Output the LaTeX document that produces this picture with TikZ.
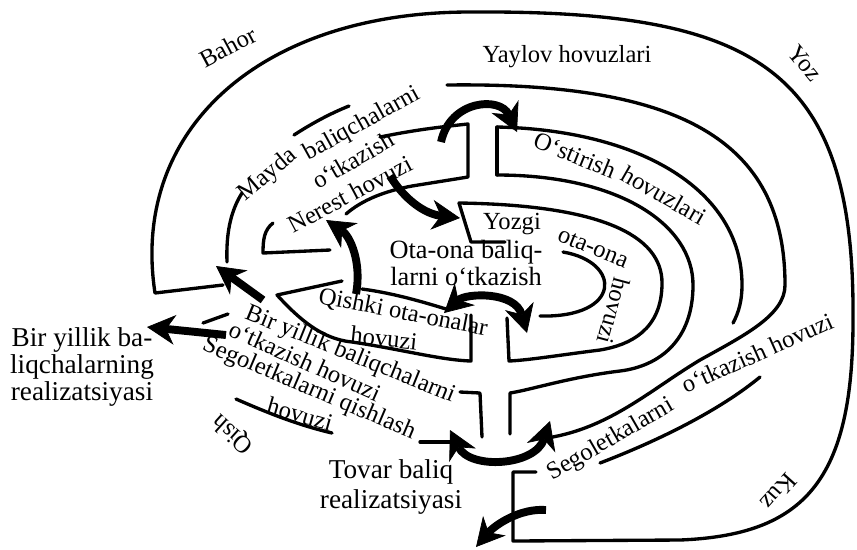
\documentclass[tikz,border=0pt]{standalone}
\usepackage{fontspec}
\setmainfont{Liberation Serif}
\usetikzlibrary{arrows.meta}

\begin{document}
\begin{tikzpicture}[
    x=0.02cm, y=-0.02cm,
    fishtip/.tip={Stealth[length=16pt, width=17pt, inset=5pt, line width=0.4pt]},
    wall/.style={line width=1.9pt, line cap=round, line join=round},
    arr/.style={line width=4.5pt, -fishtip},
    twoway/.style={line width=4.5pt, fishtip-fishtip},
    lbl/.style={inner sep=0pt, font=\fontsize{14}{15}\selectfont},
    side/.style={inner sep=0pt, align=center, font=\fontsize{15.5}{15.6}\selectfont}
]
\useasboundingbox (0,0) rectangle (857,549);

% Outer ring: seasons
\draw[wall] (223,285) -- (155,293)
  .. controls (130,130) and (260,12) .. (470,12)
  .. controls (760,10) and (855,70) .. (853,320)
  .. controls (853,480) and (805,535) .. (680,540)
  -- (513,541) -- (513,472) -- (536,472);

% Yaylov / segoletka walls
\draw[wall] (447,85) .. controls (680,82) and (785,140) .. (785,285)
  .. controls (785,315) and (745,335) .. (700,360)
  .. controls (650,390) and (610,428) .. (547,438);
\draw[wall] (600,463) .. controls (660,440) and (720,410) .. (760,377);

% O'stirish walls
\draw[wall] (497,127) .. controls (640,130) and (742,190) .. (742,285)
  .. controls (742,300) and (739,312) .. (733,323);
\draw[wall] (497,127) -- (497,175);
\draw[wall] (497,175) .. controls (620,175) and (693,225) .. (693,285)
  .. controls (693,340) and (660,366) .. (620,371)
  .. controls (570,377) and (530,390) .. (510,393) -- (510,434);

% Yozgi ota-ona walls
\draw[wall] (505,242) -- (471,242) -- (459,203)
  .. controls (600,205) and (662,235) .. (662,283)
  .. controls (662,330) and (630,345) .. (600,350)
  .. controls (560,355) and (530,360) .. (509,361) -- (507,318);
\draw[wall] (563,252) .. controls (622,262) and (622,318) .. (540,316);

% Mayda / Nerest walls
\draw[wall] (380,137) .. controls (410,131) and (430,128) .. (468,124)
  -- (468,177) -- (412,186) .. controls (385,191) and (362,200) .. (346,214);
\draw[wall] (273,223) .. controls (264,230) and (263,240) .. (263,253) -- (330,250);
\draw[wall] (227,262) .. controls (226,235) and (230,212) .. (242,193);
\draw[wall] (294,135) .. controls (311,124) and (329,114) .. (349,106);

% Qishki / bir yillik walls
\draw[wall] (342,281) -- (277,295)
  .. controls (300,320) and (322,339) .. (352,342)
  .. controls (400,349) and (440,360) .. (471,361) -- (471,315);
\draw[wall] (362,289) .. controls (392,293) and (420,301) .. (446,309);
\draw[wall] (460,392) -- (480,393) -- (482,437);
\draw[wall] (203,323) -- (228,314);
\draw[wall] (236,399) .. controls (268,413) and (298,425) .. (332,433);
\draw[wall] (420,442) -- (452,442);

% Arrows
\draw[arr] (441,142) .. controls (450,100) and (500,96) .. (517,132);
\draw[arr] (390,176) .. controls (405,200) and (425,214) .. (460,218);
\draw[arr] (356,294) .. controls (362,262) and (350,236) .. (326,220);
\draw[arr] (263,300) -- (216,266);
\draw[arr] (226,335) -- (147,327);
\draw[twoway] (444,313) .. controls (466,293) and (515,291) .. (527,333);
\draw[twoway] (450,430) .. controls (470,470) and (535,466) .. (550,421);
\draw[arr] (546,510) .. controls (520,508) and (495,525) .. (476,547);

% Seasons
\node[lbl, rotate=28] (bahor) at (228,47) {Bahor};
\node[lbl, rotate=-51] (yoz) at (805,63) {Yoz};
\node[lbl, rotate=228] (kuz) at (779,492) {Kuz};
\node[lbl, rotate=138] (qish) at (233,434) {Qish};

% Pond labels
\node[lbl] (yaylov) at (567,57) {Yaylov hovuzlari};
\node[lbl, rotate=40] (mayda) at (268,175) {Mayda};
\node[lbl, rotate=29] (mayda1) at (362,124) {baliqchalarni};
\node[lbl, rotate=30] (mayda2) at (353,160) {o‘tkazish};
\node[lbl, rotate=28] (nerest) at (350,194) {Nerest hovuzi};
\node[lbl, rotate=-22] (ostir1) at (575,155) {O‘stirish};
\node[lbl, rotate=-30] (ostir2) at (664,195) {hovuzlari};
\node[lbl] (yozgi1) at (512,224) {Yozgi};
\node[lbl, rotate=-22] (yozgi2) at (593,248) {ota-ona};
\node[lbl, rotate=-105] (yozgi3) at (614,311) {hovuzi};
\node[side, font=\fontsize{15}{15}\selectfont] (otaona) at (466,263)
  {Ota-ona baliq-\\larni o‘tkazish};
\node[lbl, rotate=-11] (qishki1) at (403,313) {Qishki ota-onalar};
\node[lbl, rotate=-6] (qishki2) at (384,338) {hovuzi};
\node[lbl, rotate=-22] (biryil1) at (350,355) {Bir yillik baliqchalarni};
\node[lbl, rotate=-24] (biryil2) at (305,361) {o‘tkazish hovuzi};
\node[lbl, rotate=-23] (segq1) at (309,389) {Segoletkalarni qishlash};
\node[lbl, rotate=-16] (segq2) at (300,414) {hovuzi};
\node[lbl, rotate=30] (sego1) at (611,440) {Segoletkalarni};
\node[lbl, rotate=24] (sego2) at (757,353) {o‘tkazish hovuzi};

% Realizatsiya
\node[side] (biryilreal) at (82,367) {Bir yillik ba-\\liqchalarning\\realizatsiyasi};
\node[side, font=\fontsize{15.5}{17}\selectfont] (tovar) at (391,487)
  {Tovar baliq\\realizatsiyasi};
\end{tikzpicture}
\end{document}
